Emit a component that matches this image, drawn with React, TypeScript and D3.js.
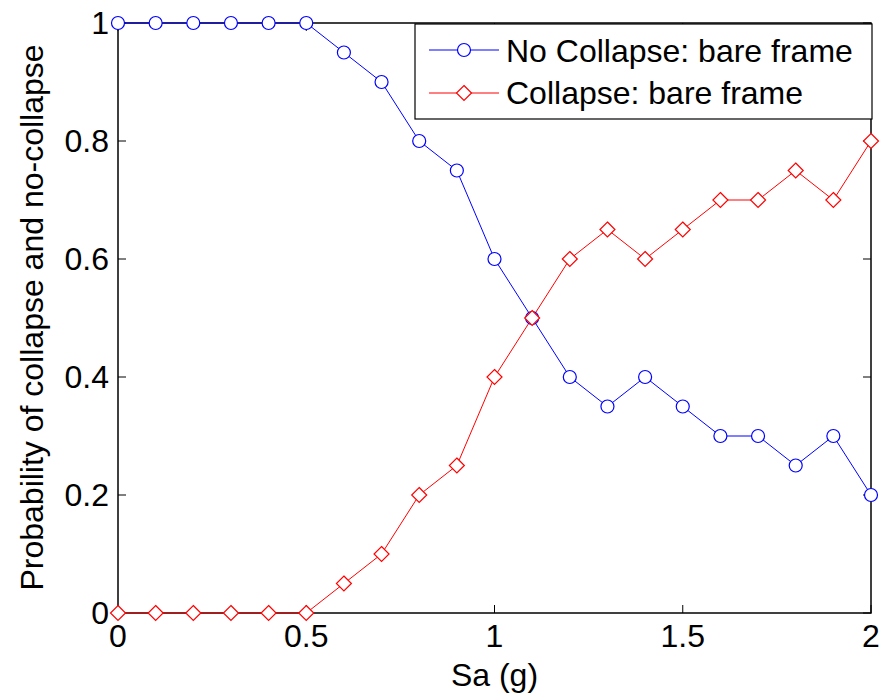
import React from "react";
import * as d3 from "d3";

const sa = [0, 0.1, 0.2, 0.3, 0.4, 0.5, 0.6, 0.7, 0.8, 0.9, 1.0, 1.1, 1.2, 1.3, 1.4, 1.5, 1.6, 1.7, 1.8, 1.9, 2.0];
const noCollapse = [1, 1, 1, 1, 1, 1, 0.95, 0.9, 0.8, 0.75, 0.6, 0.5, 0.4, 0.35, 0.4, 0.35, 0.3, 0.3, 0.25, 0.3, 0.2];
const collapse = [0, 0, 0, 0, 0, 0, 0.05, 0.1, 0.2, 0.25, 0.4, 0.5, 0.6, 0.65, 0.6, 0.65, 0.7, 0.7, 0.75, 0.7, 0.8];
const xTicks = [0, 0.5, 1, 1.5, 2];
const yTicks = [0, 0.2, 0.4, 0.6, 0.8, 1];
const seriesNames = ["No Collapse: bare frame", "Collapse: bare frame"];

const W = 888;
const H = 694;
const left = 118;
const right = 871;
const top = 23;
const bottom = 613;
const font = "Arial, 'Liberation Sans', sans-serif";
const fs = 32;
const tick = 8;

export default function App() {
  const x = d3.scaleLinear().domain([0, 2]).range([left, right]);
  const y = d3.scaleLinear().domain([0, 1]).range([bottom, top]);
  const line = d3
    .line<number>()
    .x((_, i) => x(sa[i]))
    .y((d) => y(d));

  const fmt = (v: number) => String(v);
  const diamond = (cx: number, cy: number, r: number) =>
    `M${cx},${cy - r}L${cx + r},${cy}L${cx},${cy + r}L${cx - r},${cy}Z`;

  return (
    <svg
      width={W}
      height={H}
      style={{ position: "absolute", left: 0, top: 0, background: "#fff" }}
    >
      <rect x={0} y={0} width={W} height={H} fill="#fff" />
      {/* axes box */}
      <rect
        x={left}
        y={top}
        width={right - left}
        height={bottom - top}
        fill="none"
        stroke="#000"
        strokeWidth={1.5}
      />
      {/* inward ticks on all four sides */}
      {xTicks.map((t) => (
        <g key={"xt" + t}>
          <line x1={x(t)} x2={x(t)} y1={bottom} y2={bottom - tick} stroke="#000" strokeWidth={1} />
          <line x1={x(t)} x2={x(t)} y1={top} y2={top + tick} stroke="#000" strokeWidth={1} />
          <text
            x={x(t)}
            y={647}
            textAnchor="middle"
            fontFamily={font}
            fontSize={fs}
            fill="#000"
          >
            {fmt(t)}
          </text>
        </g>
      ))}
      {yTicks.map((t) => (
        <g key={"yt" + t}>
          <line x1={left} x2={left + tick} y1={y(t)} y2={y(t)} stroke="#000" strokeWidth={1} />
          <line x1={right} x2={right - tick} y1={y(t)} y2={y(t)} stroke="#000" strokeWidth={1} />
          <text
            x={left - 9}
            y={y(t) + 11}
            textAnchor="end"
            fontFamily={font}
            fontSize={fs}
            fill="#000"
          >
            {fmt(t)}
          </text>
        </g>
      ))}

      {/* series */}
      <path d={line(noCollapse) ?? ""} fill="none" stroke="#0000ff" strokeWidth={1} />
      <path d={line(collapse) ?? ""} fill="none" stroke="#ff0000" strokeWidth={1} />
      {noCollapse.map((v, i) => (
        <circle
          key={"c" + i}
          cx={x(sa[i])}
          cy={y(v)}
          r={6.5}
          fill="#fff"
          stroke="#0000ff"
          strokeWidth={1.2}
        />
      ))}
      {collapse.map((v, i) => (
        <path
          key={"d" + i}
          d={diamond(x(sa[i]), y(v), 7.5)}
          fill="#fff"
          stroke="#ff0000"
          strokeWidth={1.2}
        />
      ))}

      {/* axis labels */}
      <text
        x={(left + right) / 2}
        y={686}
        textAnchor="middle"
        fontFamily={font}
        fontSize={fs}
        fill="#000"
      >
        Sa (g)
      </text>
      <text
        transform={`translate(43, ${(43 + 592) / 2}) rotate(-90)`}
        textAnchor="middle"
        fontFamily={font}
        fontSize={fs}
        fill="#000"
      >
        Probability of collapse and no-collapse
      </text>

      {/* legend */}
      <g>
        <rect x={415} y={24} width={457} height={95} fill="#fff" stroke="#000" strokeWidth={1.2} />
        <line x1={429} x2={499} y1={50} y2={50} stroke="#0000ff" strokeWidth={1} />
        <circle cx={464} cy={50} r={6.5} fill="#fff" stroke="#0000ff" strokeWidth={1.2} />
        <text x={506} y={62} fontFamily={font} fontSize={fs} fill="#000">
          {seriesNames[0]}
        </text>
        <line x1={429} x2={499} y1={93} y2={93} stroke="#ff0000" strokeWidth={1} />
        <path d={diamond(464, 93, 7.5)} fill="#fff" stroke="#ff0000" strokeWidth={1.2} />
        <text x={506} y={104} fontFamily={font} fontSize={fs} fill="#000">
          {seriesNames[1]}
        </text>
      </g>
    </svg>
  );
}
